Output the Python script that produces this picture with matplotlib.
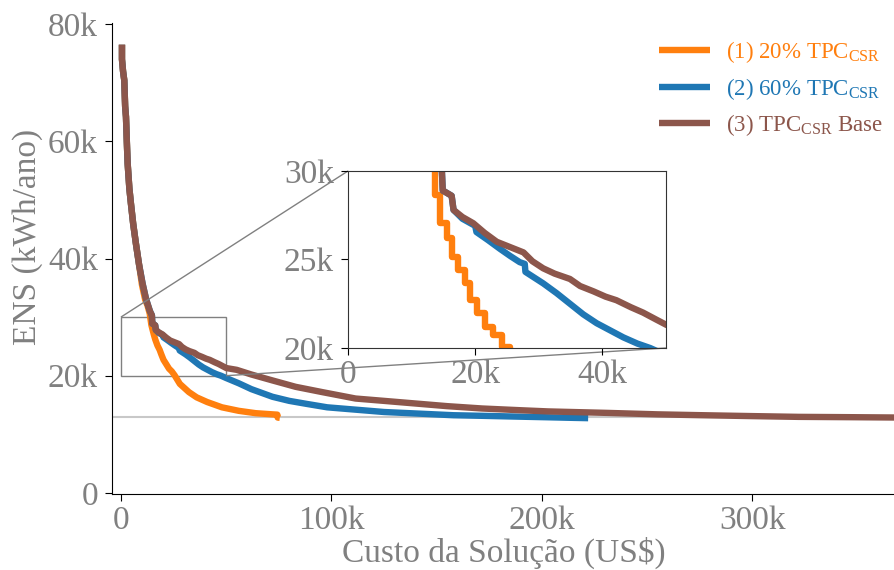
import numpy as np
import matplotlib.pyplot as plt
from matplotlib.ticker import FuncFormatter
from mpl_toolkits.axes_grid1.inset_locator import mark_inset

plt.rcParams['font.family'] = ['Liberation Serif', 'DejaVu Serif']
plt.rcParams['mathtext.fontset'] = 'custom'
plt.rcParams['mathtext.rm'] = 'Liberation Serif'
plt.rcParams['mathtext.it'] = 'Liberation Serif:italic'

# trecho comum das tres fronteiras (custo em mil US$, ENS em mil kWh/ano)
inicio_x = [0.5, 0.5, 1.0, 1.6, 2.0, 2.4, 2.9, 3.2, 4.0, 4.75, 5.8, 7.1, 8.6]
inicio_y = [76.5, 74.0, 72.0, 70.4, 66.0, 64.2, 59.0, 56.2, 52.0, 49.4, 46.0, 42.6, 39.0]

# (1) 20% TPC_CSR
custo_20 = [10.0, 11.5, 12.6, 13.68, 14.47, 15.62, 16.30, 17.35, 18.40, 19.18, 20.23,
            21.54, 22.85, 24.16, 25.5, 28.0, 32.3, 36.0, 41.0, 48.0, 56.0, 64.0, 72.0,
            74.3, 74.5, 75.5]
ens_20 = [35.5, 33.0, 32.0, 30.6, 28.64, 27.04, 26.19, 25.16, 24.41, 23.65, 22.71,
          21.96, 21.20, 20.73, 20.07, 18.6, 17.2, 16.3, 15.5, 14.6, 14.0, 13.6, 13.4,
          13.35, 12.85, 12.8]

# trecho comum das curvas (2) e (3) antes de se separarem
meio_x = [10.3, 12.0, 13.8, 14.73, 14.9, 16.3, 16.6]
meio_y = [35.7, 33.0, 31.0, 30.3, 28.9, 28.6, 27.8]

# (2) 60% TPC_CSR
custo_60 = [18.0, 20.0, 20.2, 22.0, 23.9, 25.5, 27.0, 27.8, 27.9, 30.7, 32.8, 34.9,
            37.0, 39.1, 41.2, 43.3, 45.5, 47.5, 50.0, 56.0, 62.0, 72.0, 80.0, 88.0,
            98.0, 111.5, 125.0, 140.0, 158.0, 171.6, 190.0, 203.0, 215.0, 222.0]
ens_60 = [27.3, 26.9, 26.55, 26.1, 25.6, 25.2, 24.85, 24.75, 24.3, 23.65, 23.1, 22.5,
          21.9, 21.4, 21.0, 20.6, 20.25, 20.0, 19.6, 18.7, 17.7, 16.4, 15.7, 15.2,
          14.6, 14.2, 13.8, 13.55, 13.25, 13.15, 13.0, 12.9, 12.8, 12.75]

# (3) TPC_CSR Base
custo_base = [18.0, 19.7, 21.5, 23.4, 25.5, 27.6, 29.0, 30.7, 32.5, 34.9, 36.5,
              38.6, 40.5, 42.2, 44.5, 46.4, 48.5, 50.1, 55.0, 62.0, 71.9, 83.0, 95.6,
              111.5, 125.0, 140.0, 155.0, 171.6, 190.0, 203.0, 231.0, 255.0, 275.0,
              300.0, 322.0, 345.0, 372.0]
ens_base = [27.4, 27.05, 26.5, 26.0, 25.7, 25.4, 24.9, 24.5, 24.2, 23.9, 23.5,
            23.2, 22.9, 22.7, 22.3, 22.0, 21.6, 21.3, 21.0, 20.2, 19.2, 18.1, 17.2,
            16.1, 15.7, 15.25, 14.8, 14.4, 14.1, 13.9, 13.65, 13.4, 13.26,
            13.1, 12.97, 12.92, 12.85]

ens_min = 13.0

series = [
    (inicio_x + custo_20, inicio_y + ens_20, '#ff7f0e', r'(1) 20% TPC$_{\mathrm{CSR}}$', 'steps-pre'),
    (inicio_x + meio_x + custo_60, inicio_y + meio_y + ens_60, '#1f77b4', r'(2) 60% TPC$_{\mathrm{CSR}}$', 'default'),
    (inicio_x + meio_x + custo_base, inicio_y + meio_y + ens_base, '#8c564b', r'(3) TPC$_{\mathrm{CSR}}$ Base', 'default'),
]

cinza = '#808080'
fs = 24

def fmt_k(v, pos):
    if abs(v) < 1e-9:
        return '0'
    return '%dk' % round(v / 1000)

fig = plt.figure(figsize=(8.95, 5.70), dpi=100)
ax = fig.add_axes([0.125, 0.1333, 0.875, 0.8263])

ax.axhline(ens_min * 1000, color='#c8c8c8', lw=1.5, zorder=1)
for (x, y, cor, nome, estilo) in series:
    ax.plot(np.array(x) * 1000, np.array(y) * 1000, color=cor, lw=4.6, label=nome,
            solid_capstyle='butt', zorder=2)

ax.set_xlim(-4300, 367800)
ax.set_ylim(-200, 80200)
ax.set_xticks([0, 100000, 200000, 300000])
ax.set_yticks([0, 20000, 40000, 60000, 80000])
ax.xaxis.set_major_formatter(FuncFormatter(fmt_k))
ax.yaxis.set_major_formatter(FuncFormatter(fmt_k))
ax.spines['top'].set_visible(False)
ax.spines['right'].set_visible(False)
ax.tick_params(labelsize=fs, labelcolor=cinza, length=5)
ax.tick_params(axis='x', pad=3)
ax.tick_params(axis='y', pad=5)
ax.set_xlabel('Custo da Solução (US$)', fontsize=fs, color=cinza, labelpad=1)
ax.set_ylabel('ENS (kWh/ano)', fontsize=fs, color=cinza)
ax.yaxis.set_label_coords(-0.088, 0.546)

leg = ax.legend(loc='upper right', frameon=False, fontsize=16.5, handlelength=2.25,
                handletextpad=0.67, labelspacing=0.45, borderaxespad=0.15,
                bbox_to_anchor=(1.0, 0.992))
for (txt, serie) in zip(leg.get_texts(), series):
    txt.set_color(serie[2])

# ampliacao da regiao do joelho
axins = fig.add_axes([0.3888, 0.3895, 0.3553, 0.3105])
for (x, y, cor, nome, estilo) in series:
    axins.plot(np.array(x) * 1000, np.array(y) * 1000, color=cor, lw=4.6,
               drawstyle=estilo)
axins.set_xlim(0, 50000)
axins.set_ylim(20000, 30000)
axins.set_xticks([0, 20000, 40000])
axins.set_yticks([20000, 25000, 30000])
axins.xaxis.set_major_formatter(FuncFormatter(fmt_k))
axins.yaxis.set_major_formatter(FuncFormatter(fmt_k))
axins.tick_params(labelsize=fs, labelcolor=cinza, length=5)
axins.tick_params(axis='x', pad=3)
axins.tick_params(axis='y', pad=5)
for s in axins.spines.values():
    s.set_color('#333333')

mark_inset(ax, axins, loc1=2, loc2=4, fc='none', ec=cinza, lw=1.0)

fig.savefig('out.png', dpi=100)
